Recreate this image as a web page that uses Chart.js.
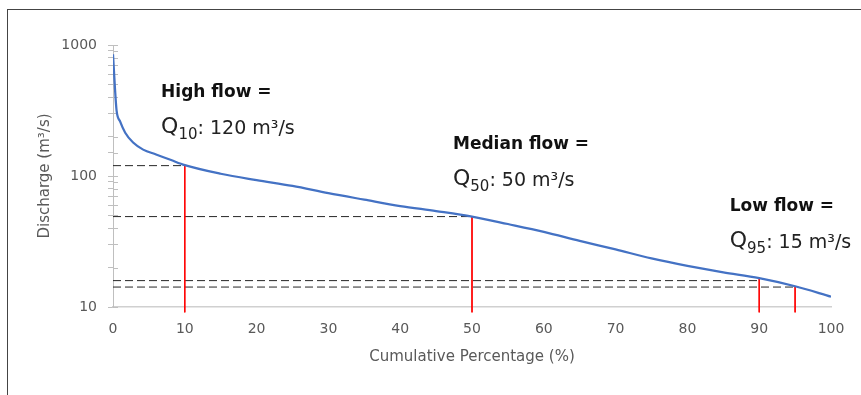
<!DOCTYPE html>
<html>
<head>
<meta charset="utf-8">
<script src="https://cdn.jsdelivr.net/npm/chart.js@4.4.1/dist/chart.umd.min.js"></script>
<style>
  body { margin: 0; background: #fff; overflow: hidden; }
  #marco { position: absolute; left: 7px; top: 9px; width: 853px; height: 385px; border-top: 1px solid #444; border-left: 1px solid #444; }
  #contenedor { position: absolute; left: 0; top: 0; width: 861px; height: 395px; }
</style>
</head>
<body>
<div id="marco"></div>
<div id="contenedor"><canvas id="grafica"></canvas></div>
<script>
// Curva de duración de caudales (porcentaje acumulado vs caudal)
var porcentaje = [0, 0.28, 0.5, 1, 1.7, 2.8, 4.2, 6, 8, 10, 15, 20, 25, 30, 35, 40, 45, 50, 55, 60, 65, 70, 75, 80, 85, 90, 95, 100];
var caudal = [850, 460, 315, 260, 214, 180, 159, 146, 133, 121, 104, 93, 84, 74, 66, 59, 54, 49, 43, 37.5, 32, 27.5, 23.5, 20.6, 18.4, 16.6, 14.4, 12];

// Percentiles marcados
var percentiles = [10, 50, 90, 95];
var caudalDiscontinua = [120, 49, 15.9, 14.2];
var caudalRoja = [120, 49, 16.9, 14.3];
var caudalBase = 9.1;

// Ticks
var ticksX = [0, 10, 20, 30, 40, 50, 60, 70, 80, 90, 100];
var ticksYConEtiqueta = [10, 100, 1000];

// Textos de anotación
var anotaciones = [
    { x: 6.7, y: 399, titulo: "High flow =", sub: "10", resto: ": 120 m³/s" },
    { x: 47.35, y: 160, titulo: "Median flow =", sub: "50", resto: ": 50 m³/s" },
    { x: 85.9, y: 54.4, titulo: "Low flow =", sub: "95", resto: ": 15 m³/s" }
];

var fuente = "DejaVu Sans";

var datasets = [{
    data: porcentaje.map(function (p, i) { return { x: p, y: caudal[i] }; }),
    borderColor: '#4472C4',
    borderWidth: 2.25,
    pointRadius: 0,
    cubicInterpolationMode: 'monotone',
    order: 0
}];

percentiles.forEach(function (p, i) {
    datasets.push({
        data: [{ x: 0, y: caudalDiscontinua[i] }, { x: p, y: caudalDiscontinua[i] }],
        borderColor: '#262626',
        borderWidth: 1,
        borderDash: [8, 4],
        pointRadius: 0,
        order: 2
    });
    datasets.push({
        data: [{ x: p, y: caudalRoja[i] }, { x: p, y: caudalBase }],
        borderColor: '#FF0000',
        borderWidth: 1,
        pointRadius: 0,
        clip: false,
        order: 1
    });
});

// Marcas menores hacia dentro del eje Y
var marcasInternas = {
    id: 'marcasInternas',
    beforeDatasetsDraw: function (chart) {
        var ctx = chart.ctx;
        var escalaY = chart.scales.y;
        var izq = chart.chartArea.left;
        ctx.save();
        ctx.strokeStyle = '#bfbfbf';
        ctx.lineWidth = 1;
        escalaY.ticks.forEach(function (t) {
            var py = Math.round(escalaY.getPixelForValue(t.value)) + 0.5;
            ctx.beginPath();
            ctx.moveTo(izq, py);
            ctx.lineTo(izq + 5, py);
            ctx.stroke();
        });
        ctx.restore();
    }
};

// Textos "High flow = Q10: ..."
var textos = {
    id: 'textos',
    afterDraw: function (chart) {
        var ctx = chart.ctx;
        var sx = chart.scales.x;
        var sy = chart.scales.y;
        ctx.save();
        ctx.textBaseline = 'alphabetic';
        ctx.textAlign = 'left';
        anotaciones.forEach(function (a) {
            var px = sx.getPixelForValue(a.x);
            var py = sy.getPixelForValue(a.y);
            ctx.fillStyle = '#111';
            ctx.font = 'bold 17px "' + fuente + '"';
            ctx.fillText(a.titulo, px, py);

            var base = py + 36;
            ctx.fillStyle = '#222';
            ctx.font = '22px "' + fuente + '"';
            ctx.fillText('Q', px, base);
            var x2 = px + ctx.measureText('Q').width;
            ctx.font = '15px "' + fuente + '"';
            ctx.fillText(a.sub, x2, base + 6);
            var x3 = x2 + ctx.measureText(a.sub).width;
            ctx.font = '19px "' + fuente + '"';
            ctx.fillText(a.resto, x3, base + 1);
        });
        ctx.restore();
    }
};

var ctx = document.getElementById('grafica').getContext('2d');
var grafica = new Chart(ctx, {
    type: 'line',
    data: { datasets: datasets },
    options: {
        responsive: true,
        maintainAspectRatio: false,
        animation: false,
        layout: { padding: { top: 45, right: 30, left: 0, bottom: 0 } },
        plugins: { legend: { display: false }, tooltip: { enabled: false } },
        scales: {
            x: {
                type: 'linear',
                min: 0,
                max: 100,
                afterFit: function (s) { s.height = 88; },
                afterBuildTicks: function (s) { s.ticks = ticksX.map(function (v) { return { value: v }; }); },
                grid: { display: false, drawTicks: false },
                border: { color: '#d0d0d0', width: 1.5 },
                ticks: { padding: 14, color: '#595959', font: { family: fuente, size: 14 } },
                title: {
                    display: true,
                    text: 'Cumulative Percentage (%)',
                    color: '#595959',
                    font: { family: fuente, size: 15 },
                    padding: { top: 0, bottom: 29 }
                }
            },
            y: {
                type: 'logarithmic',
                min: 10,
                max: 1000,
                afterFit: function (s) { s.width = 113; },
                grid: { drawOnChartArea: false, drawTicks: true, tickLength: 5, color: '#bfbfbf' },
                border: { color: '#bfbfbf', width: 1 },
                ticks: {
                    autoSkip: false,
                    padding: 11,
                    color: '#595959',
                    font: { family: fuente, size: 14 },
                    callback: function (v) { return ticksYConEtiqueta.indexOf(v) >= 0 ? String(v) : ''; }
                },
                title: {
                    display: true,
                    text: 'Discharge (m³/s)',
                    color: '#595959',
                    font: { family: fuente, size: 15 },
                    padding: { top: 36, bottom: 0 }
                }
            }
        }
    },
    plugins: [marcasInternas, textos]
});
</script>
</body>
</html>
